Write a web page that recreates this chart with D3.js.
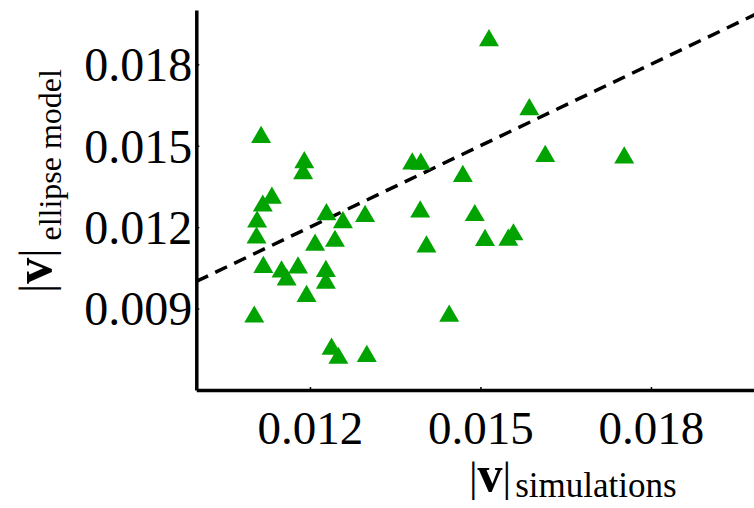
<!DOCTYPE html>
<html>
<head>
<meta charset="utf-8">
<script src="https://cdn.jsdelivr.net/npm/d3@7"></script>
<style>
  body { margin: 0; background: #fff; }
  svg { display: block; }
</style>
</head>
<body>
<svg id="chart"></svg>
<script>
// |v| from simulations (x) vs |v| from ellipse model (y)
const simValues = [
  0.01515, 0.01114, 0.01190, 0.01188, 0.01133, 0.01117, 0.01107, 0.01106,
  0.01229, 0.01258, 0.01297, 0.01244, 0.01209, 0.01118, 0.01150, 0.01159,
  0.01179, 0.01228, 0.01228, 0.01194, 0.01102, 0.01238, 0.01250, 0.01300,
  0.01380, 0.01395, 0.01469, 0.01394, 0.01490, 0.01405, 0.01508, 0.01558,
  0.01549, 0.01445, 0.01586, 0.01614, 0.01753
];
const modelValues = [
  0.01898, 0.01542, 0.01449, 0.01408, 0.01318, 0.01289, 0.01230, 0.01171,
  0.01257, 0.01228, 0.01251, 0.01159, 0.01145, 0.01063, 0.01046, 0.01017,
  0.01061, 0.01048, 0.01005, 0.00956, 0.00880, 0.00762, 0.00728, 0.00735,
  0.01444, 0.01443, 0.01398, 0.01267, 0.01254, 0.01138, 0.01162, 0.01183,
  0.01163, 0.00883, 0.01644, 0.01472, 0.01466
];
const xTicks = [0.012, 0.015, 0.018];
const yTicks = [0.009, 0.012, 0.015, 0.018];
// y = x reference line
const identityEnds = [0.010, 0.020];

const width = 754;
const height = 508;

const svg = d3.select("#chart").attr("width", width).attr("height", height);

const x = d3.scaleLinear().domain([0.010, 0.020]).range([196.3, 764.6]);
const y = d3.scaleLinear().domain([0.006, 0.020]).range([390, 10]);

const serif = "'Liberation Serif', 'Times New Roman', serif";

// axes
const xAxis = svg
  .append("g")
  .attr("transform", `translate(0, ${y(0.006)})`)
  .call(d3.axisBottom(x).tickValues(xTicks).tickFormat(d3.format(".3f")).tickSizeInner(-3).tickSizeOuter(0));

xAxis.select(".domain").attr("stroke", "#000").attr("stroke-width", 3.5);
xAxis.selectAll(".tick line").attr("stroke", "#000").attr("stroke-width", 1.5);
xAxis
  .selectAll(".tick text")
  .attr("y", 54)
  .attr("dy", 0)
  .attr("font-family", serif)
  .attr("font-size", 47)
  .attr("fill", "#000");

const yAxis = svg
  .append("g")
  .attr("transform", `translate(${x(0.010)}, 0)`)
  .call(d3.axisLeft(y).tickValues(yTicks).tickFormat(d3.format(".3f")).tickSizeInner(-3).tickSizeOuter(0));

yAxis.select(".domain").attr("stroke", "#000").attr("stroke-width", 3.5);
yAxis.selectAll(".tick line").attr("stroke", "#000").attr("stroke-width", 1.5);
yAxis
  .selectAll(".tick text")
  .attr("x", -4)
  .attr("dy", "0.34em")
  .attr("font-family", serif)
  .attr("font-size", 48)
  .attr("fill", "#000");

// dashed y = x line
svg
  .append("line")
  .attr("x1", x(identityEnds[0]))
  .attr("y1", y(identityEnds[0]))
  .attr("x2", x(identityEnds[1]))
  .attr("y2", y(identityEnds[1]))
  .attr("stroke", "#000")
  .attr("stroke-width", 3.5)
  .attr("stroke-dasharray", "13 8");

// triangles, centred on their bounding box
const side = 20;
const tri = `M 0 ${-side * 0.43} L ${side / 2} ${side * 0.43} L ${-side / 2} ${side * 0.43} Z`;

svg
  .append("g")
  .selectAll("path")
  .data(simValues.map((d, i) => [d, modelValues[i]]))
  .join("path")
  .attr("d", tri)
  .attr("transform", (d) => `translate(${x(d[0])}, ${y(d[1])})`)
  .attr("fill", "#00a300");

// axis titles
const xTitle = svg
  .append("text")
  .attr("x", 469)
  .attr("y", 491)
  .attr("font-family", serif)
  .attr("fill", "#000");
xTitle.append("tspan").attr("font-size", 43).text("|");
xTitle.append("tspan").attr("font-size", 50).attr("font-weight", "bold").text("v");
xTitle.append("tspan").attr("font-size", 43).text("|");
xTitle.append("tspan").attr("font-size", 35).attr("dx", 4).attr("dy", 6).text("simulations");

const yTitle = svg
  .append("text")
  .attr("transform", "translate(51, 293) rotate(-90)")
  .attr("font-family", serif)
  .attr("fill", "#000");
yTitle.append("tspan").attr("font-size", 46).text("|");
yTitle.append("tspan").attr("font-size", 52).attr("font-weight", "bold").text("v");
yTitle.append("tspan").attr("font-size", 46).text("|");
yTitle.append("tspan").attr("font-size", 32).attr("dx", 8).attr("dy", 10).text("ellipse model");
</script>
</body>
</html>
